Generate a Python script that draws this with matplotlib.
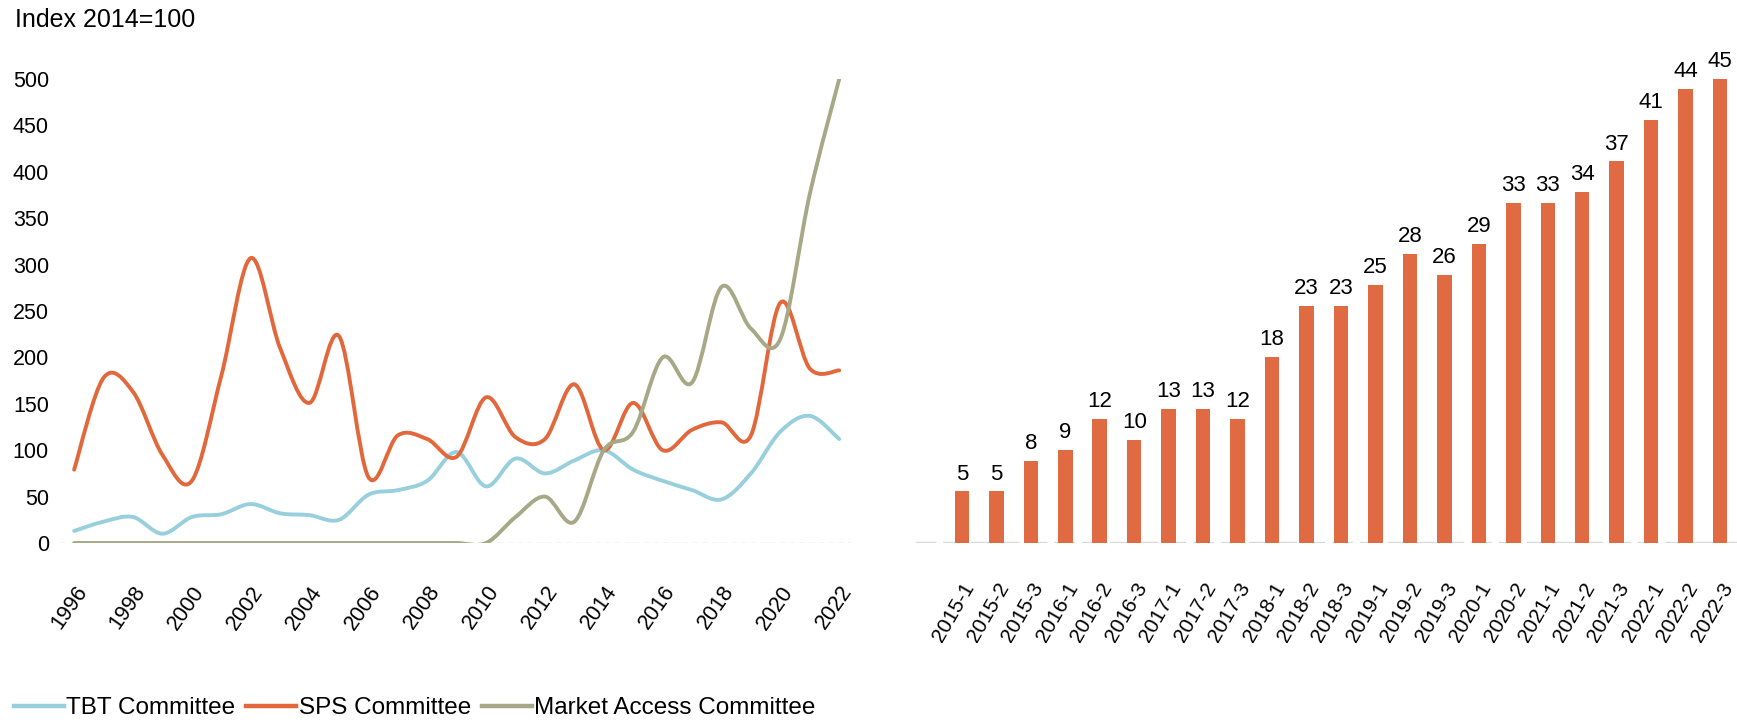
import matplotlib
matplotlib.use("Agg")
import matplotlib.pyplot as plt
import numpy as np
from matplotlib.path import Path
from matplotlib.patches import PathPatch
from matplotlib.lines import Line2D

plt.rcParams['font.family'] = ['Liberation Sans', 'DejaVu Sans']

# Left panel: index 2014=100
years = list(range(1996, 2023))
tbt = [13, 23, 28, 10, 28, 31, 42, 32, 30, 25, 52, 57, 67, 98, 61, 91, 75, 89,
       100, 79, 67, 57, 47, 75, 120, 137, 112]
sps = [79, 178, 163, 95, 67, 180, 307, 210, 151, 223, 71, 116, 112, 93, 157, 114,
       112, 171, 100, 151, 100, 122, 130, 116, 259, 188, 186]
market = [0, 0, 0, 0, 0, 0, 0, 0, 0, 0, 0, 0, 0, 0, 0, 28, 50, 23,
          100, 120, 200, 173, 276, 231, 220, 376, 500]

# Right panel: cumulative count
periods = ['2015-1', '2015-2', '2015-3', '2016-1', '2016-2', '2016-3', '2017-1',
           '2017-2', '2017-3', '2018-1', '2018-2', '2018-3', '2019-1', '2019-2',
           '2019-3', '2020-1', '2020-2', '2021-1', '2021-2', '2021-3', '2022-1',
           '2022-2', '2022-3']
counts = [5, 5, 8, 9, 12, 10, 13, 13, 12, 18, 23, 23, 25, 28, 26, 29, 33, 33,
          34, 37, 41, 44, 45]

c_tbt = '#97CFDD'
c_sps = '#E2683C'
c_ma = '#A6A886'
c_bar = '#E06B43'


def smooth_path(x, y):
    # Catmull-Rom style smoothing drawn as cubic Bezier segments
    x = np.asarray(x, float)
    y = np.asarray(y, float)
    pts = np.column_stack([x, y])
    verts = [pts[0]]
    codes = [Path.MOVETO]
    n = len(pts)
    for i in range(n - 1):
        p0 = pts[i - 1] if i > 0 else pts[i]
        p1 = pts[i]
        p2 = pts[i + 1]
        p3 = pts[i + 2] if i + 2 < n else pts[i + 1]
        verts += [p1 + (p2 - p0) / 6, p2 - (p3 - p1) / 6, p2]
        codes += [Path.CURVE4] * 3
    return Path(verts, codes)


fig = plt.figure(figsize=(17.37, 7.22), dpi=100)

# ---- left line chart
ax1 = fig.add_axes([60 / 1737, 179 / 722, 791 / 1737, 464 / 722])
ax1.axhline(0, color='#cccccc', lw=1, ls=(0, (4, 3)), zorder=0)
for vals, col in [(tbt, c_tbt), (sps, c_sps), (market, c_ma)]:
    ax1.add_patch(PathPatch(smooth_path(years, vals), fc='none', ec=col,
                            lw=2.8, capstyle='round', joinstyle='round'))
ax1.set_xlim(1995.52, 2022.4)
ax1.set_ylim(0, 500)
ax1.set_yticks(range(0, 501, 50))
ax1.set_xticks(range(1996, 2023, 2))
ax1.set_xticklabels([str(y) for y in range(1996, 2023, 2)], rotation=55,
                    ha='right', va='top', rotation_mode='anchor', fontsize=15.5)
ax1.tick_params(axis='both', length=0, labelsize=15.5)
ax1.tick_params(axis='y', pad=8)
ax1.tick_params(axis='x', pad=28)
for s in ax1.spines.values():
    s.set_visible(False)

fig.text(15 / 1737, 1 - 8 / 722, 'Index 2014=100', fontsize=18, ha='left', va='top')

# ---- right bar chart
ax2 = fig.add_axes([915 / 1737, 179 / 722, 822 / 1737, 464 / 722])
xpos = np.arange(len(periods))
ax2.axhline(0, color='#d9d9d9', lw=2.5, ls=(0, (6, 2)), zorder=0)
bars = ax2.bar(xpos, counts, width=0.42, color=c_bar, zorder=2)
ax2.bar_label(bars, labels=[str(c) for c in counts], padding=5, fontsize=16)
ax2.set_xlim(-1.36, 22.49)
ax2.set_ylim(0, 45)
ax2.set_yticks([])
ax2.set_xticks(xpos)
ax2.set_xticklabels(periods, rotation=60, ha='right', va='top',
                    rotation_mode='anchor', fontsize=15)
ax2.tick_params(axis='x', length=0, pad=26)
for s in ax2.spines.values():
    s.set_visible(False)

# ---- legend
handles = [Line2D([], [], color=c, lw=3.2) for c in (c_tbt, c_sps, c_ma)]
fig.legend(handles, ['TBT Committee', 'SPS Committee', 'Market Access Committee'],
           loc='center left', bbox_to_anchor=(14 / 1737, 1 - 708 / 722),
           ncol=3, frameon=False, fontsize=17.5, handlelength=2.05,
           handletextpad=0.1, columnspacing=0.45, borderpad=0, borderaxespad=0)

fig.savefig('out.png', dpi=100)
